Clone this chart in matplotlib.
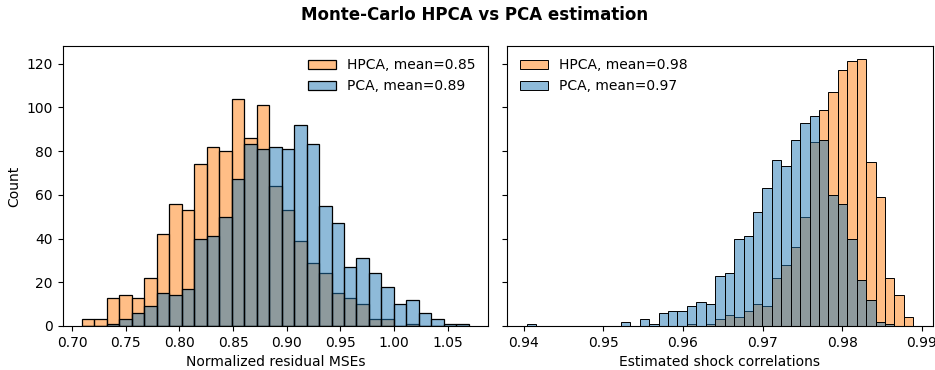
import numpy as np
import matplotlib
matplotlib.use("Agg")
import matplotlib.pyplot as plt

# ---- data ----
# Left panel: normalized residual MSEs (31 common bins)
mse_range = (0.7093, 1.0696)
mse_hpca = [3, 3, 13, 14, 13, 22, 42, 56, 53, 74, 82, 80, 104, 86, 101, 64,
            53, 39, 29, 24, 15, 13, 10, 3, 3, 0, 1, 0, 0, 0, 0]
mse_pca = [0, 0, 1, 3, 6, 9, 15, 14, 17, 40, 41, 50, 67, 83, 81, 82,
           81, 92, 83, 55, 47, 27, 31, 24, 18, 10, 12, 6, 3, 1, 1]

# Right panel: estimated shock correlations (41 common bins)
corr_range = (0.94034, 0.98895)
corr_hpca = [0, 0, 0, 0, 0, 0, 0, 0, 0, 0, 0, 0, 0, 0, 0, 0, 0, 1, 0, 1,
             3, 5, 4, 7, 10, 9, 22, 28, 36, 50, 84, 99, 107, 117, 121, 122,
             75, 59, 22, 14, 4]
corr_pca = [1, 0, 0, 0, 0, 0, 0, 0, 0, 0, 2, 0, 3, 1, 6, 7, 7, 9, 11, 10,
            23, 24, 40, 41, 52, 63, 76, 73, 85, 93, 96, 85, 60, 56, 40, 21,
            12, 2, 1, 0, 0]

labels_mse = ["HPCA, mean=0.85", "PCA, mean=0.89"]
labels_corr = ["HPCA, mean=0.98", "PCA, mean=0.97"]
xlabels = ["Normalized residual MSEs", "Estimated shock correlations"]
title = "Monte-Carlo HPCA vs PCA estimation"

C_HPCA = "#ff7f0e"
C_PCA = "#1f77b4"

fig, axes = plt.subplots(1, 2, figsize=(9.35, 3.7), dpi=100, sharey=True)
fig.subplots_adjust(left=0.067, right=0.9975, bottom=0.119, top=0.876, wspace=0.045)


def draw(ax, rng, hpca, pca, labels, lw, loc):
    edges = np.linspace(rng[0], rng[1], len(hpca) + 1)
    widths = np.diff(edges)
    b1 = ax.bar(edges[:-1], hpca, width=widths, align="edge",
                facecolor=matplotlib.colors.to_rgba(C_HPCA, 0.5),
                edgecolor="black", linewidth=lw)
    b2 = ax.bar(edges[:-1], pca, width=widths, align="edge",
                facecolor=matplotlib.colors.to_rgba(C_PCA, 0.5),
                edgecolor="black", linewidth=lw)
    ax.legend([b1, b2], labels, loc=loc, frameon=False)


draw(axes[0], mse_range, mse_hpca, mse_pca, labels_mse, 0.9, "upper right")
draw(axes[1], corr_range, corr_hpca, corr_pca, labels_corr, 0.7, "upper left")

axes[0].set_xticks([0.70, 0.75, 0.80, 0.85, 0.90, 0.95, 1.00, 1.05])
axes[1].set_xticks([0.94, 0.95, 0.96, 0.97, 0.98, 0.99])
axes[0].set_xlabel(xlabels[0])
axes[1].set_xlabel(xlabels[1])
axes[0].set_ylabel("Count")
axes[0].set_yticks([0, 20, 40, 60, 80, 100, 120])

fig.suptitle(title, fontweight="bold", fontsize=12, x=0.508, y=0.985)

fig.savefig("out.png", dpi=100)
